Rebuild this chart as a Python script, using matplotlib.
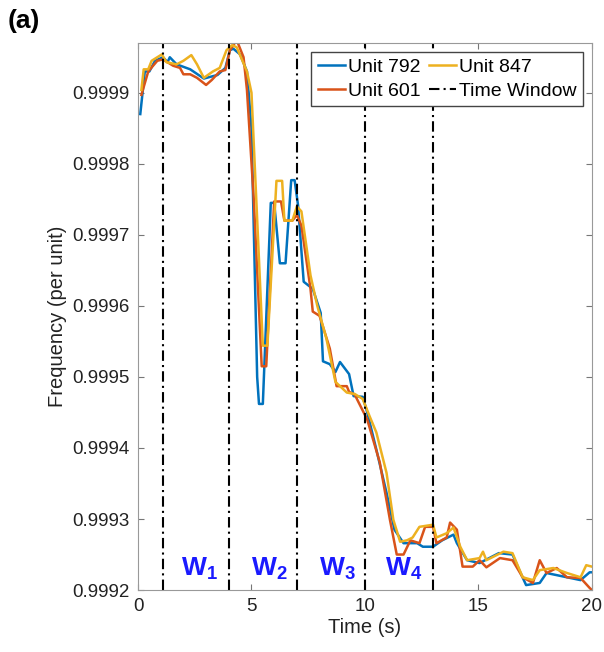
#!/usr/bin/env python3

import matplotlib
matplotlib.use('Agg')
import matplotlib.pyplot as plt
from matplotlib.ticker import FormatStrFormatter
import numpy as np

# Unit 792
t_792 = [0.1, 0.3, 0.5, 0.75, 1.1, 1.3, 1.4, 1.7, 2.3, 2.9, 3.5, 3.85, 4.05, 4.2, 4.5, 4.8,
         5.0, 5.25, 5.33, 5.5, 5.85, 6.0, 6.25, 6.5, 6.75, 6.9, 7.05, 7.3, 7.7, 8.05, 8.15,
         8.45, 8.7, 8.9, 9.3, 9.5, 9.9, 10.1, 10.5, 10.95, 11.3, 11.7, 12.3, 12.55, 13.0,
         13.4, 13.9, 14.05, 14.5, 15.05, 15.9, 16.5, 16.8, 17.1, 17.7, 18.0, 18.9, 19.5, 19.9, 20.0]
f_792 = [0.99987, 0.99993, 0.99993, 0.999945, 0.99995, 0.999943, 0.99995, 0.99994, 0.999933,
         0.99992, 0.999925, 0.999935, 0.99996, 0.999962, 0.999954, 0.99993,
         0.99985, 0.9995, 0.999462, 0.999462, 0.999745, 0.999745, 0.99966, 0.99966, 0.999777,
         0.999777, 0.999742, 0.999634, 0.999624, 0.99959, 0.999522,
         0.999518, 0.999507, 0.999521, 0.999504, 0.999473, 0.999472, 0.99945, 0.999398,
         0.999337, 0.999285, 0.999266, 0.999266, 0.999261, 0.999261,
         0.99927, 0.999278, 0.999266, 0.999242, 0.999238, 0.999252, 0.99925, 0.999228,
         0.999207, 0.99921, 0.999224, 0.999218, 0.999214, 0.999225, 0.999225]

# Unit 601
t_601 = [0.15, 0.45, 0.85, 1.1, 1.55, 1.85, 2.0, 2.3, 2.6, 3.0, 3.25, 3.6, 3.85, 4.05, 4.35,
         4.65, 4.8, 5.1, 5.45, 5.65, 6.0, 6.3, 6.45, 6.8, 7.0, 7.2, 7.6, 7.7, 8.0, 8.45, 8.75,
         9.2, 9.3, 9.55, 10.1, 10.65, 11.1, 11.4, 11.7, 12.0, 12.4, 12.65, 13.0, 13.15, 13.6,
         13.75, 14.05, 14.3, 14.75, 15.05, 15.35, 15.95, 16.5, 16.95, 17.4, 17.7, 18.0,
         18.45, 18.9, 19.5, 19.9, 20.0]
f_601 = [0.999897, 0.99993, 0.999945, 0.999947, 0.999938, 0.999935, 0.999926, 0.999926,
         0.999921, 0.999911, 0.999918, 0.99993, 0.999932, 0.99996, 0.999974,
         0.99995, 0.999904, 0.99975, 0.999515, 0.999515, 0.999747, 0.999747, 0.99972,
         0.99972, 0.999728, 0.999713, 0.999624, 0.999592, 0.999586, 0.99954, 0.999487,
         0.999487, 0.999479, 0.999475, 0.99944, 0.99938, 0.999299, 0.99925, 0.99925,
         0.99927, 0.999266, 0.999289, 0.999289, 0.999266, 0.999274,
         0.999295, 0.999285, 0.999233, 0.999233, 0.999242, 0.999232, 0.999245, 0.999242,
         0.999218, 0.99921, 0.999242, 0.999224,
         0.999231, 0.999218, 0.999217, 0.999203, 0.9992]

# Unit 847
t_847 = [0.15, 0.25, 0.45, 0.6, 1.05, 1.25, 1.7, 2.0, 2.35, 2.6, 2.9, 3.3, 3.6, 3.9, 4.15,
         4.35, 4.8, 5.0, 5.5, 5.7, 6.1, 6.35, 6.45, 6.8, 7.0, 7.2, 7.6, 7.9, 8.3, 8.7, 9.2,
         9.55, 9.9, 10.2, 10.5, 10.95, 11.25, 11.55, 11.85, 12.1, 12.4, 13.0, 13.15, 13.6,
         13.9, 14.2, 14.5, 15.05, 15.2, 15.35, 16.1, 16.5, 16.95, 17.4, 17.7, 18.3, 18.9,
         19.5, 19.75, 20.0]
f_847 = [0.999904, 0.999933, 0.999933, 0.999945, 0.999954, 0.999943, 0.99994, 0.999945,
         0.999953, 0.99994, 0.999921, 0.99993, 0.999935, 0.99996, 0.999967,
         0.999964, 0.99993, 0.9999, 0.999544, 0.999544, 0.999776, 0.999776, 0.99972,
         0.99972, 0.99974, 0.999733, 0.999643, 0.9996, 0.999554, 0.999493, 0.999478,
         0.999476, 0.999469, 0.999445, 0.999422, 0.999365, 0.999299, 0.999268, 0.99927,
         0.999274, 0.999289, 0.999292, 0.999274, 0.99928,
         0.999288, 0.999261, 0.999242, 0.999245, 0.999254, 0.999242, 0.999254, 0.999252,
         0.999218, 0.999214, 0.999228, 0.999231, 0.999224,
         0.999218, 0.999235, 0.999233]

# Time window boundaries and labels
window_edges = [1.1, 4, 7, 10, 13]
window_labels = ['1', '2', '3', '4']
window_label_x = [2.7, 5.8, 8.8, 11.7]

y_ticks = [0.9992, 0.9993, 0.9994, 0.9995, 0.9996, 0.9997, 0.9998, 0.9999]


def main():
    plt.rcParams['font.family'] = ['Liberation Sans', 'DejaVu Sans']
    plt.rcParams['mathtext.fontset'] = 'custom'
    plt.rcParams['mathtext.bf'] = 'Liberation Sans:bold'
    plt.rcParams['mathtext.rm'] = 'Liberation Sans'

    fig = plt.figure(figsize=(6.04, 6.52), dpi=100)
    ax = fig.add_axes([0.2285, 0.095, 0.7515, 0.839])

    l1, = ax.plot(t_792, f_792, color='#0072BD', lw=1.8, label='Unit 792')
    l2, = ax.plot(t_601, f_601, color='#D95319', lw=1.8, label='Unit 601')
    l3, = ax.plot(t_847, f_847, color='#EDB120', lw=1.8, label='Unit 847')

    for x in window_edges:
        lw_line = ax.axvline(x, color='k', lw=1.5, linestyle=(0, (5, 2, 1, 2)),
                             label='Time Window')

    for x, s in zip(window_label_x, window_labels):
        ax.text(x, 0.99923, r'$\mathbf{W_%s}$' % s, color='#1a1aff', fontsize=19,
                ha='center', va='center')

    ax.set_xlim(0, 20)
    ax.set_ylim(0.9992, 0.99997)
    ax.set_xticks([0, 5, 10, 15, 20])
    ax.set_yticks(y_ticks)
    ax.yaxis.set_major_formatter(FormatStrFormatter('%.4f'))
    ax.tick_params(direction='in', top=True, right=True, labelsize=13.5, length=4,
                   color='#777777', pad=6, labelcolor='#222222')
    for sp in ax.spines.values():
        sp.set_color('#999999')
        sp.set_linewidth(0.8)

    ax.set_xlabel('Time (s)', fontsize=14.5, labelpad=2, color='#222222')
    ax.set_ylabel('Frequency (per unit)', fontsize=14.5, labelpad=4, color='#222222')

    ax.legend(handles=[l1, l2, l3, lw_line], ncol=2, fontsize=14, loc='upper right',
              fancybox=False, edgecolor='#444444', framealpha=1, handlelength=1.4,
              handletextpad=0.15, columnspacing=0.4, labelspacing=0.3,
              borderpad=0.35, borderaxespad=0.45)

    fig.text(0.012, 0.968, '(a)', fontsize=19, fontweight='bold', va='center')

    fig.savefig('out.png', dpi=100)


if __name__ == '__main__':
    main()
